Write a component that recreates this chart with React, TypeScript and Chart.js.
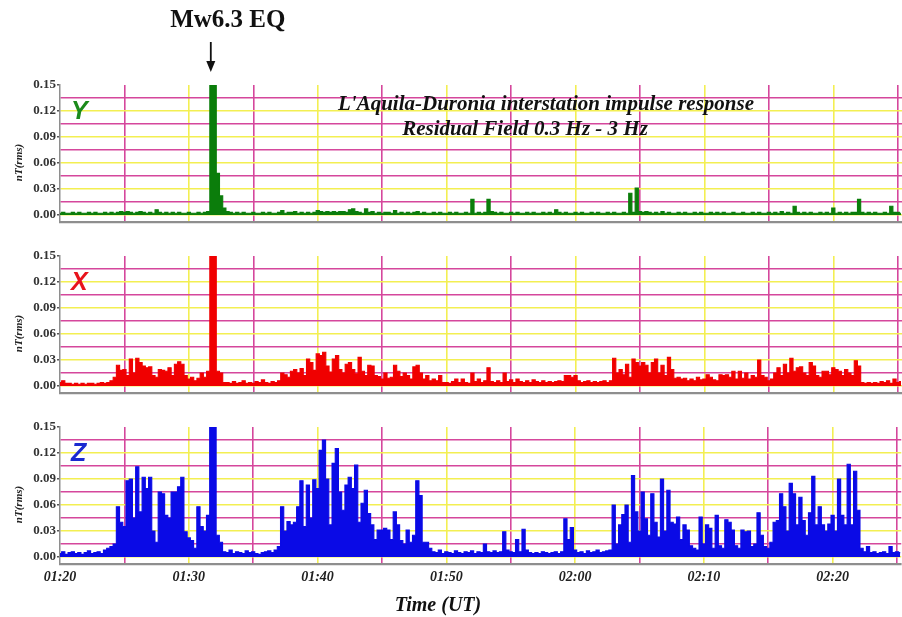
import React, { useEffect, useRef } from 'react';
import { Chart, registerables } from 'chart.js';

Chart.register(...registerables);

// ---- data (one sample every 15 s, starting 01:20 UT) ----
const STEP_MIN = 0.25;
const X_MAX = 65.33;
const Y_MIN = -0.0081;
const Y_MAX = 0.15;
const EQ_MINUTE = 11.7;

const xTickMinutes = [0, 5, 10, 15, 20, 25, 30, 35, 40, 45, 50, 55, 60, 65];
const xTickLabels = ['01:20', '', '01:30', '', '01:40', '', '01:50', '', '02:00', '', '02:10', '', '02:20', ''];
const yTickValues = [0, 0.015, 0.03, 0.045, 0.06, 0.075, 0.09, 0.105, 0.12, 0.135, 0.15];
const yTickLabels = ['0.00', '', '0.03', '', '0.06', '', '0.09', '', '0.12', '', '0.15'];

const yComp = [
  0.002, 0.003, 0.002, 0.002, 0.003, 0.002, 0.003, 0.002, 0.002, 0.003, 0.002, 0.003,
  0.002, 0.002, 0.003, 0.002, 0.003, 0.002, 0.003, 0.004, 0.003, 0.004, 0.003, 0.002,
  0.003, 0.004, 0.003, 0.002, 0.003, 0.002, 0.006, 0.003, 0.002, 0.003, 0.002, 0.003,
  0.002, 0.003, 0.002, 0.002, 0.003, 0.002, 0.002, 0.003, 0.002, 0.003, 0.004, 0.150,
  0.150, 0.048, 0.022, 0.008, 0.004, 0.003, 0.002, 0.003, 0.002, 0.003, 0.002, 0.002,
  0.003, 0.002, 0.002, 0.003, 0.002, 0.003, 0.002, 0.002, 0.003, 0.005, 0.002, 0.003,
  0.003, 0.004, 0.002, 0.003, 0.002, 0.003, 0.002, 0.003, 0.005, 0.004, 0.003, 0.004,
  0.003, 0.004, 0.003, 0.004, 0.004, 0.003, 0.006, 0.007, 0.004, 0.003, 0.002, 0.007,
  0.003, 0.004, 0.002, 0.003, 0.002, 0.003, 0.003, 0.002, 0.005, 0.002, 0.003, 0.002,
  0.003, 0.002, 0.003, 0.004, 0.002, 0.003, 0.002, 0.002, 0.003, 0.002, 0.003, 0.002,
  0.002, 0.003, 0.002, 0.003, 0.002, 0.002, 0.003, 0.002, 0.018, 0.002, 0.003, 0.002,
  0.003, 0.018, 0.004, 0.003, 0.002, 0.003, 0.002, 0.002, 0.003, 0.002, 0.003, 0.002,
  0.002, 0.003, 0.002, 0.003, 0.002, 0.002, 0.003, 0.002, 0.003, 0.002, 0.006, 0.003,
  0.002, 0.003, 0.002, 0.002, 0.003, 0.002, 0.003, 0.002, 0.002, 0.003, 0.002, 0.003,
  0.002, 0.002, 0.003, 0.002, 0.003, 0.002, 0.002, 0.003, 0.002, 0.025, 0.003, 0.031,
  0.004, 0.003, 0.004, 0.003, 0.002, 0.003, 0.002, 0.004, 0.002, 0.003, 0.002, 0.002,
  0.003, 0.002, 0.003, 0.002, 0.002, 0.003, 0.002, 0.003, 0.002, 0.002, 0.003, 0.002,
  0.003, 0.002, 0.003, 0.002, 0.002, 0.003, 0.002, 0.002, 0.003, 0.002, 0.002, 0.003,
  0.002, 0.003, 0.002, 0.002, 0.003, 0.002, 0.003, 0.002, 0.004, 0.002, 0.003, 0.002,
  0.010, 0.003, 0.002, 0.003, 0.002, 0.003, 0.002, 0.002, 0.003, 0.002, 0.003, 0.002,
  0.008, 0.002, 0.003, 0.002, 0.003, 0.002, 0.003, 0.003, 0.018, 0.003, 0.002, 0.003,
  0.002, 0.003, 0.002, 0.002, 0.003, 0.002, 0.010, 0.003, 0.003, 0.002,
];

const xComp = [
  0.004, 0.006, 0.003, 0.003, 0.002, 0.003, 0.002, 0.003, 0.002, 0.003, 0.003, 0.002,
  0.003, 0.004, 0.003, 0.004, 0.006, 0.010, 0.024, 0.018, 0.019, 0.012, 0.031, 0.015,
  0.032, 0.027, 0.023, 0.021, 0.022, 0.012, 0.010, 0.019, 0.018, 0.017, 0.021, 0.012,
  0.025, 0.028, 0.025, 0.012, 0.008, 0.010, 0.006, 0.009, 0.015, 0.010, 0.017, 0.150,
  0.150, 0.017, 0.015, 0.004, 0.004, 0.003, 0.005, 0.003, 0.004, 0.006, 0.003, 0.004,
  0.003, 0.005, 0.004, 0.007, 0.004, 0.003, 0.005, 0.004, 0.006, 0.015, 0.013, 0.010,
  0.017, 0.019, 0.015, 0.020, 0.012, 0.031, 0.027, 0.018, 0.037, 0.035, 0.039, 0.023,
  0.016, 0.031, 0.035, 0.019, 0.015, 0.025, 0.027, 0.019, 0.014, 0.033, 0.017, 0.012,
  0.024, 0.023, 0.012, 0.011, 0.008, 0.015, 0.009, 0.010, 0.024, 0.017, 0.011, 0.015,
  0.012, 0.008, 0.022, 0.024, 0.015, 0.008, 0.012, 0.006, 0.008, 0.006, 0.012, 0.004,
  0.004, 0.003, 0.005, 0.008, 0.004, 0.008, 0.004, 0.003, 0.015, 0.005, 0.008, 0.004,
  0.006, 0.021, 0.005, 0.004, 0.006, 0.004, 0.015, 0.005, 0.007, 0.004, 0.008, 0.005,
  0.004, 0.006, 0.004, 0.007, 0.005, 0.004, 0.006, 0.004, 0.005, 0.004, 0.005, 0.006,
  0.005, 0.012, 0.012, 0.010, 0.012, 0.006, 0.004, 0.005, 0.006, 0.004, 0.005, 0.004,
  0.005, 0.006, 0.004, 0.006, 0.032, 0.015, 0.019, 0.013, 0.025, 0.010, 0.031, 0.027,
  0.023, 0.027, 0.024, 0.015, 0.027, 0.031, 0.015, 0.024, 0.012, 0.033, 0.019, 0.009,
  0.010, 0.008, 0.009, 0.006, 0.008, 0.006, 0.010, 0.007, 0.008, 0.013, 0.010, 0.007,
  0.006, 0.013, 0.012, 0.013, 0.010, 0.017, 0.008, 0.017, 0.009, 0.015, 0.008, 0.012,
  0.010, 0.030, 0.012, 0.010, 0.006, 0.008, 0.015, 0.021, 0.012, 0.025, 0.015, 0.032,
  0.017, 0.021, 0.022, 0.015, 0.012, 0.027, 0.023, 0.012, 0.010, 0.017, 0.017, 0.013,
  0.021, 0.019, 0.017, 0.012, 0.019, 0.015, 0.012, 0.029, 0.023, 0.004, 0.003, 0.004,
  0.003, 0.004, 0.003, 0.005, 0.004, 0.006, 0.003, 0.008, 0.004, 0.005,
];

const zComp = [
  0.004, 0.006, 0.003, 0.005, 0.006, 0.004, 0.005, 0.003, 0.005, 0.007, 0.004, 0.005,
  0.006, 0.004, 0.008, 0.010, 0.012, 0.015, 0.058, 0.040, 0.035, 0.088, 0.090, 0.045,
  0.104, 0.052, 0.092, 0.079, 0.092, 0.030, 0.017, 0.075, 0.073, 0.048, 0.045, 0.075,
  0.075, 0.081, 0.092, 0.029, 0.022, 0.019, 0.010, 0.058, 0.035, 0.030, 0.048, 0.150,
  0.150, 0.025, 0.017, 0.006, 0.005, 0.008, 0.004, 0.006, 0.005, 0.004, 0.007, 0.005,
  0.006, 0.004, 0.003, 0.005, 0.006, 0.007, 0.005, 0.008, 0.012, 0.058, 0.030, 0.041,
  0.037, 0.040, 0.058, 0.088, 0.035, 0.083, 0.045, 0.089, 0.079, 0.123, 0.135, 0.090,
  0.037, 0.108, 0.125, 0.075, 0.054, 0.083, 0.092, 0.079, 0.106, 0.040, 0.062, 0.077,
  0.050, 0.037, 0.020, 0.031, 0.031, 0.033, 0.031, 0.020, 0.052, 0.037, 0.019, 0.015,
  0.031, 0.017, 0.025, 0.088, 0.071, 0.017, 0.017, 0.010, 0.006, 0.005, 0.008, 0.004,
  0.006, 0.005, 0.004, 0.007, 0.005, 0.004, 0.006, 0.005, 0.007, 0.004, 0.006, 0.005,
  0.015, 0.006, 0.005, 0.007, 0.005, 0.006, 0.029, 0.008, 0.006, 0.005, 0.020, 0.006,
  0.032, 0.008, 0.005, 0.004, 0.005, 0.004, 0.006, 0.005, 0.004, 0.005, 0.006, 0.004,
  0.006, 0.044, 0.020, 0.034, 0.008, 0.005, 0.006, 0.004, 0.007, 0.005, 0.006, 0.008,
  0.005, 0.006, 0.007, 0.008, 0.060, 0.015, 0.037, 0.049, 0.060, 0.017, 0.094, 0.052,
  0.030, 0.075, 0.044, 0.025, 0.073, 0.040, 0.023, 0.090, 0.030, 0.077, 0.040, 0.038,
  0.046, 0.020, 0.037, 0.031, 0.013, 0.010, 0.008, 0.046, 0.015, 0.037, 0.033, 0.010,
  0.048, 0.013, 0.010, 0.043, 0.040, 0.031, 0.013, 0.010, 0.031, 0.029, 0.030, 0.012,
  0.015, 0.051, 0.025, 0.012, 0.010, 0.017, 0.040, 0.042, 0.073, 0.058, 0.030, 0.085,
  0.073, 0.037, 0.069, 0.042, 0.025, 0.051, 0.093, 0.037, 0.058, 0.037, 0.030, 0.038,
  0.048, 0.030, 0.090, 0.048, 0.037, 0.107, 0.037, 0.099, 0.054, 0.010, 0.006, 0.012,
  0.005, 0.006, 0.004, 0.005, 0.006, 0.004, 0.012, 0.005, 0.006, 0.005,
];

// ---- styles ----
const SERIF = "'Liberation Serif', 'Times New Roman', serif";
const SANS = "'Liberation Sans', Arial, sans-serif";
const MAGENTA = '#d5479c';
const YELLOW = '#f3ef52';
const AXIS_GRAY = '#8e8e8e';

type PanelProps = {
  values: number[];
  color: string;
  letter: string;
  letterColor: string;
  top: number;
  height: number;
  padTop: number;
  xHeight: number;
  showX: boolean;
  extra?: (ctx: CanvasRenderingContext2D, chart: any, top: number) => void;
};

function Panel({ values, color, letter, letterColor, top, height, padTop, xHeight, showX, extra }: PanelProps) {
  const ref = useRef<HTMLCanvasElement>(null);
  useEffect(() => {
    const canvas = ref.current!;
    const overlay = {
      id: 'overlay',
      afterDraw(chart: any) {
        const ctx = chart.ctx as CanvasRenderingContext2D;
        const a = chart.chartArea;
        ctx.save();
        ctx.fillStyle = letterColor;
        ctx.font = `italic bold 25px ${SANS}`;
        ctx.textAlign = 'left';
        ctx.textBaseline = 'alphabetic';
        ctx.fillText(letter, a.left + 11, a.top + 34);
        ctx.fillStyle = '#222';
        ctx.font = `italic bold 11px ${SERIF}`;
        ctx.translate(19, (a.top + a.bottom) / 2 + 9);
        ctx.rotate(-Math.PI / 2);
        ctx.textAlign = 'center';
        ctx.textBaseline = 'middle';
        ctx.fillText('nT(rms)', 0, 0);
        ctx.restore();
        if (extra) {
          ctx.save();
          extra(ctx, chart, top);
          ctx.restore();
        }
      },
    };
    const chart = new Chart(canvas, {
      type: 'line',
      data: {
        datasets: [
          {
            data: values.map((v, i) => ({ x: i * STEP_MIN, y: v })),
            borderColor: color,
            backgroundColor: color,
            borderWidth: 1.1,
            pointRadius: 0,
            fill: 'origin',
            stepped: 'middle',
          },
        ],
      },
      options: {
        responsive: false,
        animation: false,
        devicePixelRatio: 1,
        layout: { padding: { top: padTop, left: 0, right: 0, bottom: 0 } },
        plugins: { legend: { display: false }, tooltip: { enabled: false }, title: { display: false } },
        scales: {
          x: {
            type: 'linear',
            min: 0,
            max: X_MAX,
            afterBuildTicks: (s: any) => {
              s.ticks = xTickMinutes.map((v) => ({ value: v }));
            },
            afterFit: (s: any) => {
              s.height = xHeight;
            },
            grid: {
              drawTicks: false,
              lineWidth: 1.6,
              color: (c: any) => {
                const v = c.tick ? c.tick.value : 1;
                if (v === 0) return 'rgba(0,0,0,0)';
                return v % 10 === 0 ? YELLOW : MAGENTA;
              },
            },
            border: { color: AXIS_GRAY, width: 2.2 },
            ticks: {
              display: showX,
              autoSkip: false,
              maxRotation: 0,
              padding: 5,
              color: '#222',
              font: { family: SERIF, size: 14, style: 'italic', weight: 'bold' },
              callback: (_v: any, i: number) => xTickLabels[i],
            },
          },
          y: {
            type: 'linear',
            min: Y_MIN,
            max: Y_MAX,
            afterBuildTicks: (s: any) => {
              s.ticks = yTickValues.map((v) => ({ value: v }));
            },
            afterFit: (s: any) => {
              s.width = 60;
            },
            grid: {
              lineWidth: 1.6,
              tickLength: 3,
              color: (c: any) => {
                const v = c.tick ? c.tick.value : 0;
                if (v >= Y_MAX - 1e-9) return 'rgba(0,0,0,0)';
                return Math.round(v / 0.015) % 2 === 0 ? YELLOW : MAGENTA;
              },
              tickColor: (c: any) => {
                const v = c.tick ? c.tick.value : 0;
                return Math.round(v / 0.015) % 2 === 0 ? '#555' : 'rgba(0,0,0,0)';
              },
            },
            border: { color: AXIS_GRAY, width: 1.5 },
            ticks: {
              autoSkip: false,
              padding: 1,
              color: '#333',
              font: { family: SERIF, size: 13, weight: 'bold' },
              callback: (_v: any, i: number) => yTickLabels[i],
            },
          },
        },
      },
      plugins: [overlay],
    } as any);
    return () => chart.destroy();
  }, []);
  return (
    <canvas
      ref={ref}
      width={902}
      height={height}
      style={{ position: 'absolute', left: 0, top, display: 'block' }}
    />
  );
}

const drawTopExtras = (ctx: CanvasRenderingContext2D, chart: any, top: number) => {
  const ax = chart.scales.x.getPixelForValue(EQ_MINUTE);
  ctx.fillStyle = '#111';
  ctx.font = `bold 25px ${SERIF}`;
  ctx.textAlign = 'center';
  ctx.textBaseline = 'alphabetic';
  ctx.fillText('Mw6.3 EQ', ax + 17, 27 - top);
  ctx.strokeStyle = '#111';
  ctx.lineWidth = 1.8;
  ctx.beginPath();
  ctx.moveTo(ax, 42 - top);
  ctx.lineTo(ax, 64 - top);
  ctx.stroke();
  ctx.beginPath();
  ctx.moveTo(ax - 4.5, 61 - top);
  ctx.lineTo(ax + 4.5, 61 - top);
  ctx.lineTo(ax, 72 - top);
  ctx.closePath();
  ctx.fill();
  ctx.font = `italic bold 21px ${SERIF}`;
  ctx.fillText("L'Aquila-Duronia interstation impulse response", 546, 110 - top);
  ctx.fillText('Residual Field 0.3 Hz - 3 Hz', 525, 135 - top);
};

const drawBottomExtras = (ctx: CanvasRenderingContext2D, _chart: any, top: number) => {
  ctx.fillStyle = '#111';
  ctx.font = `italic bold 20px ${SERIF}`;
  ctx.textAlign = 'center';
  ctx.textBaseline = 'alphabetic';
  ctx.fillText('Time (UT)', 438, 611 - top);
};

export default function App() {
  return (
    <div style={{ position: 'absolute', left: 0, top: 0, width: 902, height: 617, background: '#fff' }}>
      <Panel values={yComp} color="#0b7d0b" letter="Y" letterColor="#1b8a1b" top={0} height={232} padTop={85} xHeight={10} showX={false} extra={drawTopExtras} />
      <Panel values={xComp} color="#f00000" letter="X" letterColor="#e8141c" top={232} height={170} padTop={24} xHeight={9} showX={false} />
      <Panel values={zComp} color="#0a0ae6" letter="Z" letterColor="#1a2ad0" top={402} height={215} padTop={25} xHeight={53} showX={true} extra={drawBottomExtras} />
    </div>
  );
}
